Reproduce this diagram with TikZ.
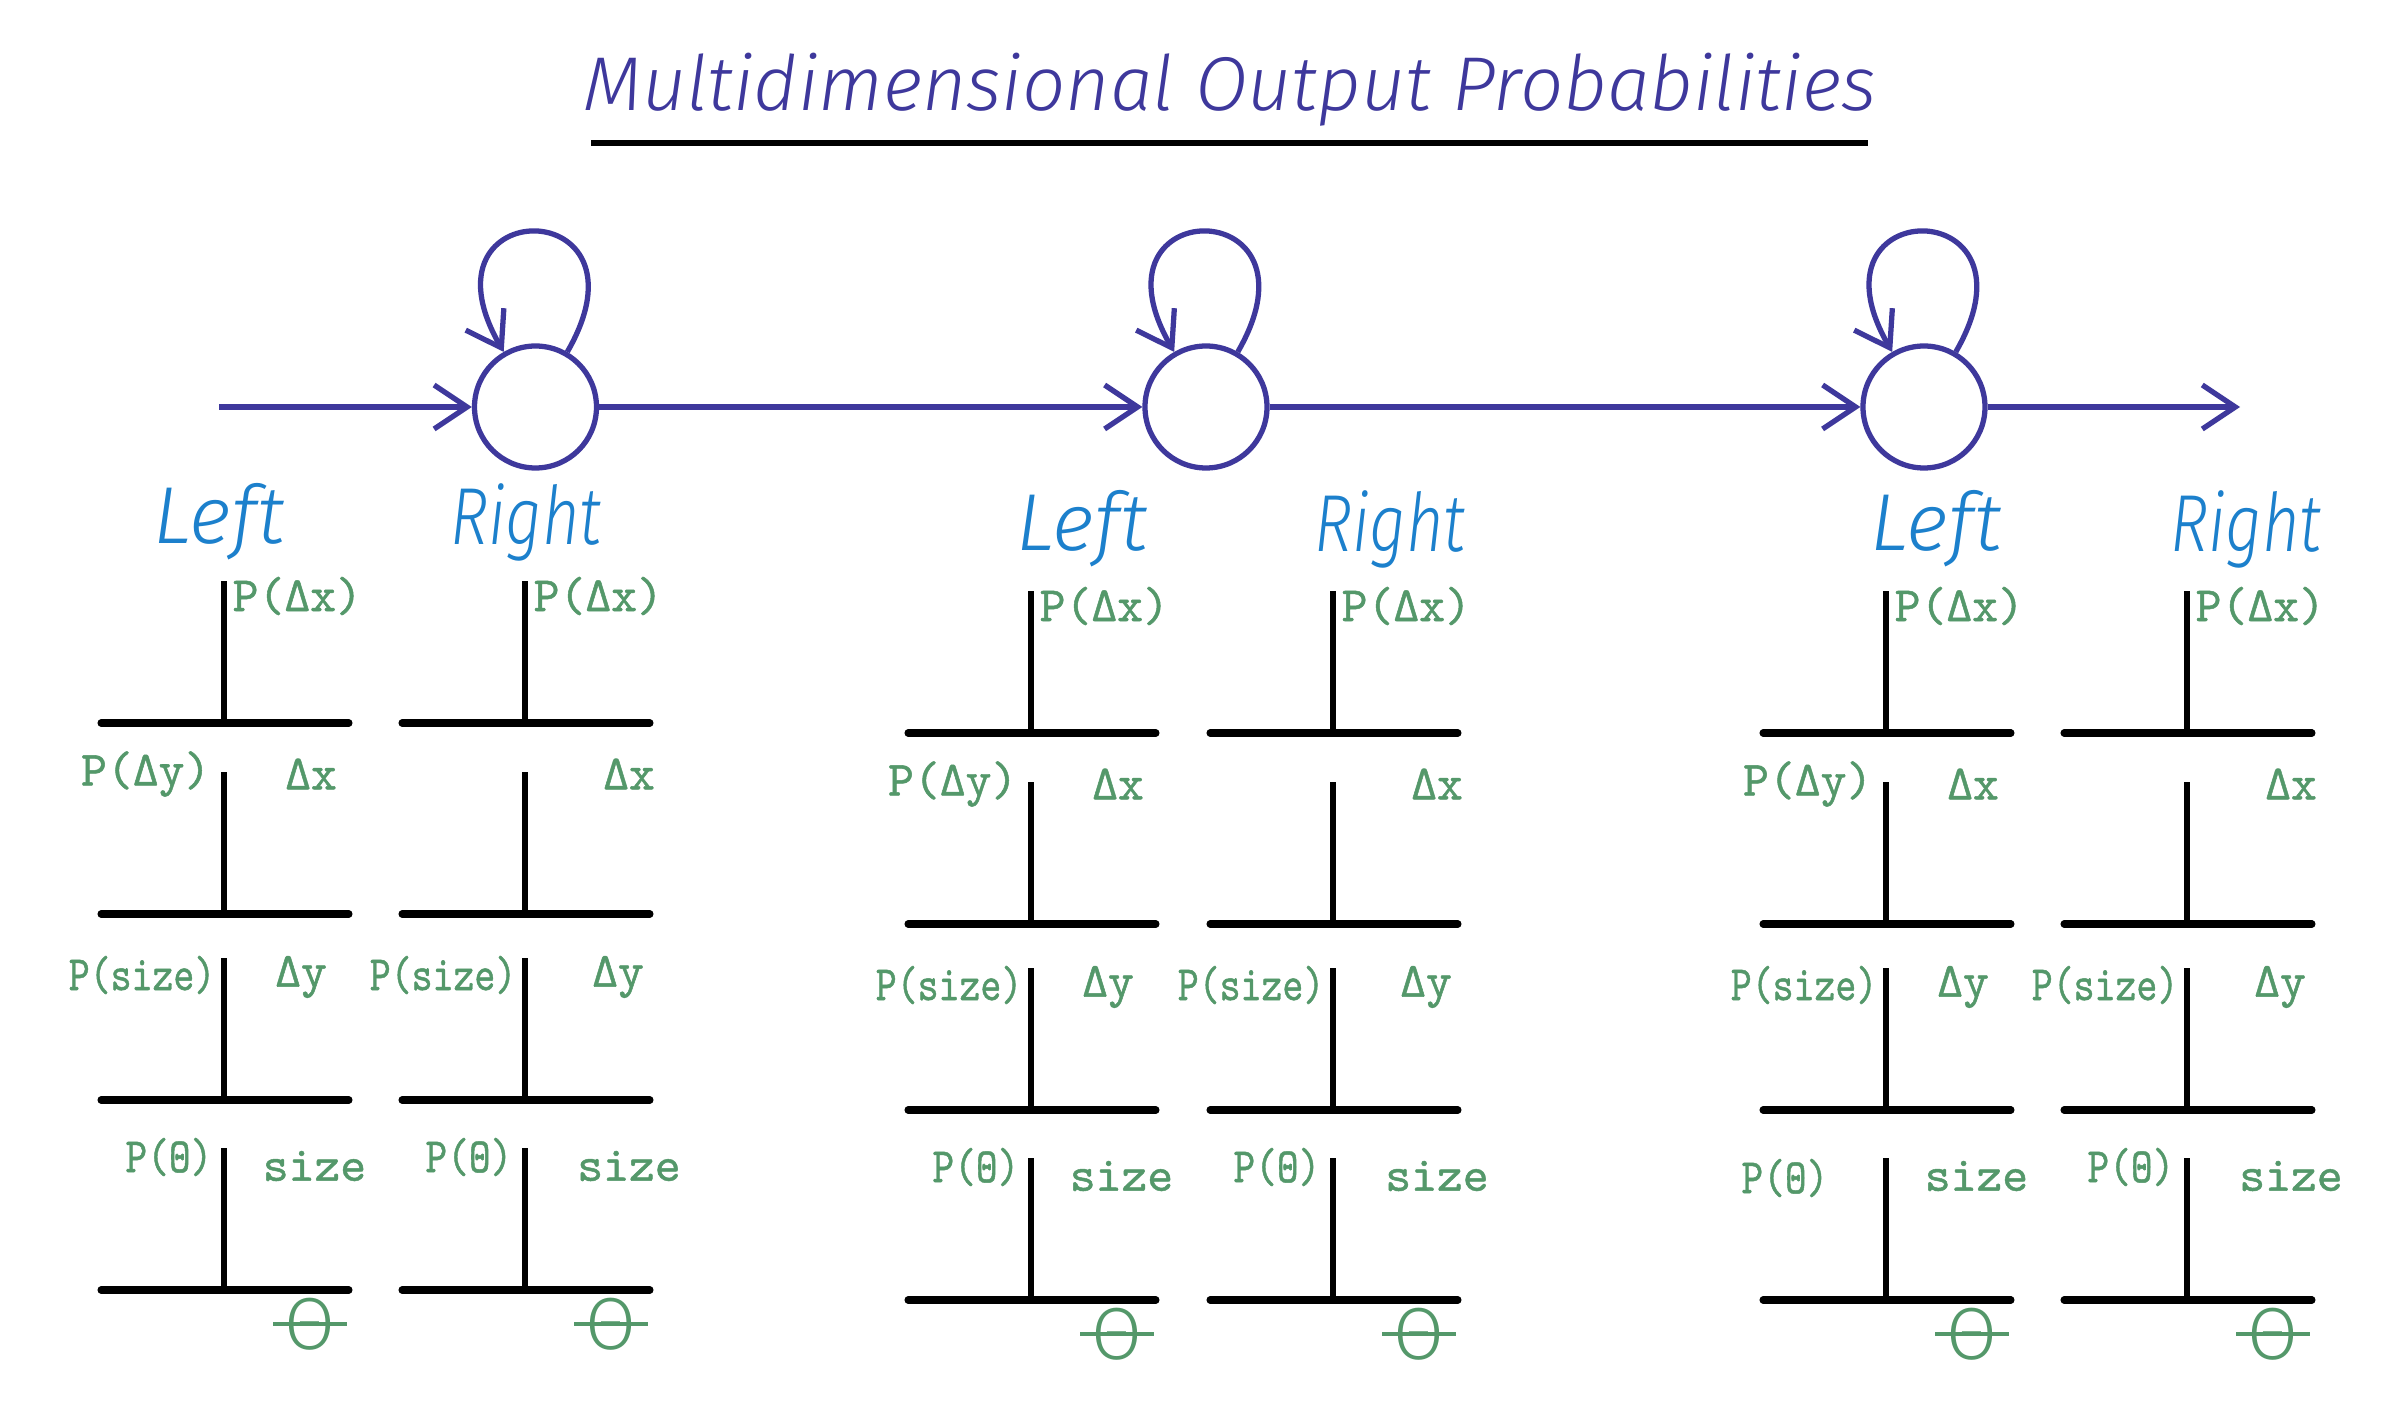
\documentclass[tikz,border=0pt]{standalone}
\usepackage{fontspec}
\usetikzlibrary{positioning,arrows.meta}
\newfontfamily\handfont{Fira Sans}[UprightFont=* Light,ItalicFont=* Light Italic]
\newfontfamily\valfont{lmmono10-regular.otf}[FakeBold=1]
\definecolor{statecol}{RGB}{62,56,156}
\definecolor{sidecol}{RGB}{28,128,204}
\definecolor{valcol}{RGB}{84,152,106}

\begin{document}
\begin{tikzpicture}[
  state/.style={draw=statecol,circle,line width=1.5pt,minimum size=1.22cm,inner sep=0pt},
  trans/.style={draw=statecol,line width=1.5pt,-{Straight Barb[length=3.3mm,width=4.4mm]}},
  side/.style={text=sidecol,font=\handfont\itshape\fontsize{23}{25}\selectfont},
  val/.style={text=valcol,font=\valfont\fontsize{14}{16}\selectfont,inner sep=0pt},
  thetasym/.style={text=valcol,font=\handfont\fontsize{21}{23}\selectfont,inner sep=0pt},
  thetabar/.style={draw=valcol,line width=0.9pt},
  axisline/.style={line width=2pt,line cap=round},
  tickline/.style={line width=1.6pt},
  font=\small
]
\path[use as bounding box,fill=white] (0,0) rectangle (24.06,-14.18);

% title
\node[text=statecol,font=\handfont\itshape\fontsize{21.7}{24}\selectfont] (title) at (12.30,-0.90) {Multidimensional Output Probabilities};
\draw[line width=1.6pt] (5.91,-1.43) -- (18.68,-1.43);

% states
\coordinate (start) at (2.19,-4.07);
\node[state] (s1) at (5.355,-4.07) {};
\node[state] (s2) at (12.06,-4.07) {};
\node[state] (s3) at (19.24,-4.07) {};
\coordinate (stop) at (22.40,-4.07);
\path (start) edge[trans] (s1)
(s1) edge[trans] (s2)
(s2) edge[trans] (s3)
(s3) edge[trans] (stop)
(s1) edge[trans,out=60,in=120,distance=1.85cm] (s1)
(s2) edge[trans,out=60,in=120,distance=1.85cm] (s2)
(s3) edge[trans,out=60,in=120,distance=1.85cm] (s3);

% left / right
\node[side] (left1) at (2.19,-5.22) {Left};
\node[side] (right1) at (5.26,-5.22) {\scalebox{0.8}[1]{Right}};
\node[side] (left2) at (10.82,-5.29) {Left};
\node[side] (right2) at (13.90,-5.29) {\scalebox{0.8}[1]{Right}};
\node[side] (left3) at (19.36,-5.29) {Left};
\node[side] (right3) at (22.46,-5.29) {\scalebox{0.8}[1]{Right}};

% left columns
\foreach \g/\ax/\dy/\tx/\ty in {1/2.24/0/0.11/0.09, 2/10.31/0.1/0.11/0.09, 3/18.86/0.1/0.57/0.20} {
  \foreach \r/\base in {1/7.23, 2/9.14, 3/11.00, 4/12.90} {
    \coordinate (l\g\r) at (\ax,-\base-\dy);
    \coordinate (lt\g\r) at (\ax,-\base-\dy+1.42);
    \draw[axisline] ([xshift=-1.23cm]l\g\r) -- ([xshift=1.25cm]l\g\r);
    \draw[tickline] (l\g\r) -- (lt\g\r);
  }
  \node[val,right=0.08cm of lt\g1,yshift=-0.15cm] (lpx\g) {P(Δx)};
  \node[val,left=0.13cm of lt\g2,yshift=-0.02cm] (lpy\g) {P(Δy)};
  \node[val,right=0.87cm of lt\g2,anchor=center,yshift=-0.02cm] (ldx\g) {Δx};
  \node[val,left=0.08cm of lt\g3,yshift=-0.17cm] (lps\g) {\scalebox{0.81}[1]{P(size)}};
  \node[val,right=0.77cm of lt\g3,anchor=center,yshift=-0.19cm] (ldy\g) {Δy};
  \node[val,left=\tx cm of lt\g4,yshift=-\ty cm] (lpt\g) {\scalebox{0.84}[1]{P(Θ)}};
  \node[val,right=0.905cm of lt\g4,anchor=center,yshift=-0.18cm] (lsz\g) {size};
  \node[thetasym] (lth\g) at ([xshift=0.86cm,yshift=-0.34cm]l\g4) {Θ};
  \draw[thetabar] ([xshift=-0.37cm]lth\g.center) -- ([xshift=0.37cm]lth\g.center);
}

% right columns
\foreach \g/\ax/\dy in {1/5.25/0, 2/13.33/0.1, 3/21.87/0.1} {
  \foreach \r/\base in {1/7.23, 2/9.14, 3/11.00, 4/12.90} {
    \coordinate (r\g\r) at (\ax,-\base-\dy);
    \coordinate (rt\g\r) at (\ax,-\base-\dy+1.42);
    \draw[axisline] ([xshift=-1.23cm]r\g\r) -- ([xshift=1.25cm]r\g\r);
    \draw[tickline] (r\g\r) -- (rt\g\r);
  }
  \node[val,right=0.08cm of rt\g1,yshift=-0.15cm] (rpx\g) {P(Δx)};
  \node[val,right=1.04cm of rt\g2,anchor=center,yshift=-0.02cm] (rdx\g) {Δx};
  \node[val,left=0.08cm of rt\g3,yshift=-0.17cm] (rps\g) {\scalebox{0.81}[1]{P(size)}};
  \node[val,right=0.93cm of rt\g3,anchor=center,yshift=-0.19cm] (rdy\g) {Δy};
  \node[val,left=0.12cm of rt\g4,yshift=-0.09cm] (rpt\g) {\scalebox{0.84}[1]{P(Θ)}};
  \node[val,right=1.04cm of rt\g4,anchor=center,yshift=-0.18cm] (rsz\g) {size};
  \node[thetasym] (rth\g) at ([xshift=0.86cm,yshift=-0.34cm]r\g4) {Θ};
  \draw[thetabar] ([xshift=-0.37cm]rth\g.center) -- ([xshift=0.37cm]rth\g.center);
}
\end{tikzpicture}
\end{document}
